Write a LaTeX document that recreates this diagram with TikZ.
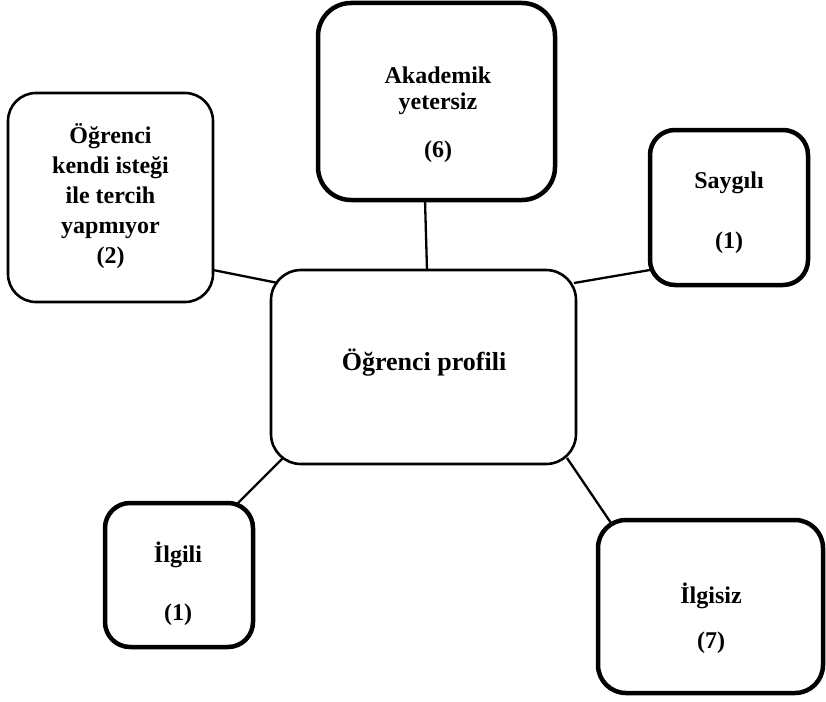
\documentclass[tikz,border=0pt]{standalone}
\usepackage{fontspec}
\setmainfont{Liberation Serif}
\usetikzlibrary{calc}
\begin{document}
\begin{tikzpicture}[x=1pt,y=-1pt,
  box/.style={draw,rounded corners=#1,inner sep=0pt,outer sep=0pt,fill=white},
  thinbox/.style={box=28pt,line width=2.6pt},
  thickbox/.style={box=28pt,line width=4.5pt},
  label/.style={align=center,anchor=base,inner sep=0pt,font=\fontsize{24}{26}\selectfont\bfseries},
  link/.style={line width=2.3pt}]
\useasboundingbox (0,0) rectangle (826,701);

% boxes
\node[thinbox,box=30pt,minimum width=305pt,minimum height=194pt] (prof) at (423.5,367) {};
\node[thinbox,minimum width=205pt,minimum height=209pt] (ogr) at (110.5,197.5) {};
\node[thickbox,box=33pt,minimum width=237pt,minimum height=197pt] (ak) at (436.5,101.5) {};
\node[thickbox,box=25pt,minimum width=158pt,minimum height=155pt] (say) at (729,207.5) {};
\node[thickbox,box=25pt,minimum width=148pt,minimum height=144pt] (ilg) at (179,575) {};
\node[thickbox,minimum width=225pt,minimum height=173pt] (isgz) at (710.5,606.5) {};

% texts (anchored at the baseline of the last line)
\node[label,font=\fontsize{26}{30}\selectfont\bfseries] (proft) at (424,370) {Öğrenci profili};
\node[label,font=\fontsize{24}{30}\selectfont\bfseries] (ogrt) at (110.5,263) {Öğrenci\\kendi isteği\\ile tercih\\yapmıyor\\(2)};
\node[label] (akt) at (438,157) {Akademik\\yetersiz\\[22pt](6)};
\node[label] (sayt) at (729,248) {Saygılı\\[34pt](1)};
\node[label] (ilgt) at (178,620) {İlgili\\[32pt](1)};
\node[label] (isgzt) at (711,648) {İlgisiz\\[19pt](7)};

% connectors
\draw[link] ($(ogr.east)+(0,72.5)$) -- ($(prof.north west)+(7,13)$);
\draw[link] ($(ak.south)+(-11.5,0)$) -- ($(prof.north)+(3.5,0)$);
\draw[link] ($(say.west)+(0,62.5)$) -- ($(prof.north east)+(-2,13)$);
\draw[link] ($(ilg.north)+(59,0)$) -- ($(prof.south west)+(12,-6)$);
\draw[link] ($(isgz.north west)+(13,3)$) -- ($(prof.south east)+(-9,-6)$);
\end{tikzpicture}
\end{document}
